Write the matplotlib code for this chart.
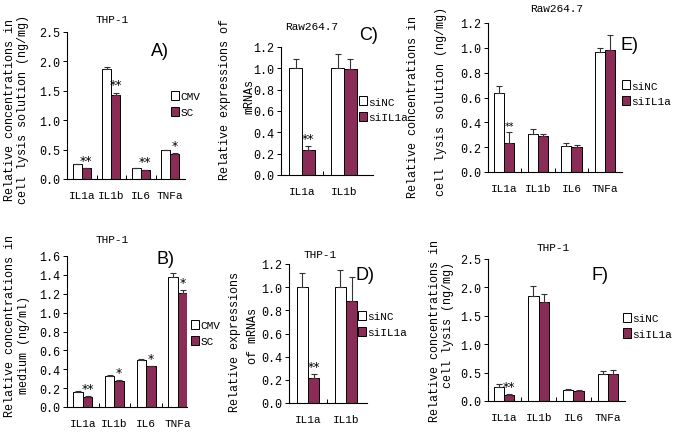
import matplotlib.pyplot as plt
import numpy as np
from matplotlib.patches import Patch

W, H = 675, 435
PURPLE = '#8b2b58'
MONO = 'Liberation Mono'

cyto4 = ['IL1a', 'IL1b', 'IL6', 'TNFa']
cyto2 = ['IL1a', 'IL1b']

# A) THP-1, cell lysis solution, CMV vs SC
a_cmv = [0.25, 1.87, 0.19, 0.49]
a_cmv_err = [0.01, 0.04, 0.005, 0.01]
a_sc = [0.18, 1.43, 0.15, 0.43]
a_sc_err = [0.005, 0.04, 0.005, 0.01]
a_stars = ['**', '**', '**', '*']

# B) THP-1, medium, CMV vs SC
b_cmv = [0.16, 0.33, 0.50, 1.38]
b_cmv_err = [0.005, 0.005, 0.01, 0.04]
b_sc = [0.11, 0.28, 0.43, 1.21]
b_sc_err = [0.005, 0.005, 0.005, 0.03]
b_stars = ['**', '*', '*', '*']

# C) Raw264.7 mRNA, siNC vs siIL1a
c_nc = [1.0, 1.0]
c_nc_err = [0.09, 0.13]
c_si = [0.23, 0.99]
c_si_err = [0.04, 0.10]
c_stars = ['**', '']

# D) THP-1 mRNA, siNC vs siIL1a
d_nc = [1.0, 1.0]
d_nc_err = [0.12, 0.15]
d_si = [0.22, 0.88]
d_si_err = [0.03, 0.21]
d_stars = ['**', '']

# E) Raw264.7 cell lysis solution, siNC vs siIL1a
e_nc = [0.64, 0.31, 0.21, 0.97]
e_nc_err = [0.05, 0.04, 0.02, 0.03]
e_si = [0.23, 0.29, 0.20, 0.98]
e_si_err = [0.09, 0.02, 0.015, 0.12]
e_stars = ['**', '', '', '']

# F) THP-1 cell lysis, siNC vs siIL1a
f_nc = [0.25, 1.85, 0.20, 0.48]
f_nc_err = [0.05, 0.17, 0.02, 0.05]
f_si = [0.10, 1.75, 0.18, 0.48]
f_si_err = [0.02, 0.13, 0.01, 0.06]
f_stars = ['**', '', '', '']

fig = plt.figure(figsize=(W / 100, H / 100), dpi=100)


def px_axes(x0, y_top, x1, y_bot):
    return fig.add_axes([x0 / W, 1 - y_bot / H, (x1 - x0) / W, (y_bot - y_top) / H])


def ftext(x, y, s, **kw):
    fig.text(x / W, 1 - y / H, s, **kw)


def draw_panel(ax, cats, v1, e1, v2, e2, stars, ymax, ystep, xlim,
               star_size=9):
    x = np.arange(len(cats))
    w = 0.3
    ekw = dict(elinewidth=0.8, ecolor='#333333', capthick=0.8)
    zero = np.zeros(len(cats))
    ax.bar(x - w / 2, v1, w, color='white', edgecolor='black', lw=0.7,
           yerr=[zero, e1], capsize=2.5, error_kw=ekw)
    ax.bar(x + w / 2, v2, w, color=PURPLE, edgecolor='black', lw=0.7,
           yerr=[zero, e2], capsize=2.5, error_kw=ekw)
    for i, s in enumerate(stars):
        if s:
            ax.annotate(s, (x[i] + w / 2, v2[i] + e2[i]), xytext=(0, 1),
                        textcoords='offset points', ha='center', va='bottom',
                        fontsize=star_size, family='DejaVu Sans')
    ax.set_xlim(*xlim)
    ax.set_ylim(0, ymax)
    ticks = np.arange(0, ymax + 1e-9, ystep)
    ax.set_yticks(ticks)
    ax.set_yticklabels(['%.1f' % t for t in ticks], family=MONO, fontsize=8.5)
    ax.set_xticks(x)
    ax.set_xticklabels(cats, family=MONO, fontsize=8)
    ax.set_xticks(x[:-1] + 0.5, minor=True)
    ax.tick_params(axis='x', which='major', length=0, pad=8)
    ax.tick_params(axis='x', which='minor', direction='in', length=3, width=0.7)
    ax.tick_params(axis='y', direction='out', length=3, width=0.7, pad=2)
    for side in ['top', 'right']:
        ax.spines[side].set_visible(False)
    for side in ['left', 'bottom']:
        ax.spines[side].set_linewidth(0.8)


def legend(x, y, labels):
    handles = [Patch(facecolor='white', edgecolor='black', lw=0.7),
               Patch(facecolor=PURPLE, edgecolor='black', lw=0.7)]
    fig.legend(handles, labels, loc='center left',
               bbox_to_anchor=(x / W, 1 - y / H), frameon=False,
               handlelength=0.7, handleheight=0.9, handletextpad=0.15,
               labelspacing=0.45, borderpad=0, borderaxespad=0,
               prop=dict(family=MONO, size=8))


def ylab(x, y, s, size=8.5):
    ftext(x, y, s, rotation=90, ha='center', va='center', family=MONO,
          fontsize=size)


# A
ax = px_axes(67, 33, 185, 180)
draw_panel(ax, cyto4, a_cmv, a_cmv_err, a_sc, a_sc_err, a_stars, 2.5, 0.5,
           (-0.5, 3.5))
ftext(112, 20, 'THP-1', ha='center', va='center', family=MONO, fontsize=8)
ftext(160, 52, 'A)', ha='center', va='center', family='Liberation Sans',
      fontsize=13)
legend(171, 105, ['CMV', 'SC'])
ylab(10, 110, 'Relative concentrations in')
ylab(23, 110, 'cell lysis solution (ng/mg)')

# C
ax = px_axes(281, 48, 373, 176)
draw_panel(ax, cyto2, c_nc, c_nc_err, c_si, c_si_err, c_stars, 1.2, 0.2,
           (-0.5, 1.69))
ftext(312, 27, 'Raw264.7', ha='center', va='center', family=MONO, fontsize=8)
ftext(369, 36, 'C)', ha='center', va='center', family='Liberation Sans',
      fontsize=13)
legend(359, 110, ['siNC', 'siIL1a'])
ylab(225, 100, 'Relative expressions of')
ylab(249, 97, 'mRNAs')

# E
ax = px_axes(488, 24, 622, 173)
draw_panel(ax, cyto4, e_nc, e_nc_err, e_si, e_si_err, e_stars, 1.2, 0.2,
           (-0.48, 3.5), star_size=7)
ftext(557, 9, 'Raw264.7', ha='center', va='center', family=MONO, fontsize=8)
ftext(630, 45, 'E)', ha='center', va='center', family='Liberation Sans',
      fontsize=13)
legend(622, 94, ['siNC', 'siIL1a'])
ylab(413, 107, 'Relative concentrations in')
ylab(441, 102, 'cell lysis solution (ng/mg)')

# B
ax = px_axes(67, 257, 187, 408)
draw_panel(ax, cyto4, b_cmv, b_cmv_err, b_sc, b_sc_err, b_stars, 1.6, 0.2,
           (-0.5, 3.29))
ftext(112, 240, 'THP-1', ha='center', va='center', family=MONO, fontsize=8)
ftext(165, 260, 'B)', ha='center', va='center', family='Liberation Sans',
      fontsize=13)
legend(191, 334, ['CMV', 'SC'])
ylab(10, 326, 'Relative concentrations in')
ylab(24, 345, 'medium (ng/ml)')

# D
ax = px_axes(289, 265, 367, 404)
draw_panel(ax, cyto2, d_nc, d_nc_err, d_si, d_si_err, d_stars, 1.2, 0.2,
           (-0.5, 1.55))
ftext(320, 255, 'THP-1', ha='center', va='center', family=MONO, fontsize=8)
ftext(365, 275, 'D)', ha='center', va='center', family='Liberation Sans',
      fontsize=13)
legend(358, 325, ['siNC', 'siIL1a'])
ylab(235, 342, 'Relative expressions')
ylab(253, 336, 'of mRNAs')

# F
ax = px_axes(488, 260, 625, 402)
draw_panel(ax, cyto4, f_nc, f_nc_err, f_si, f_si_err, f_stars, 2.5, 0.5,
           (-0.46, 3.49))
ftext(553, 248, 'THP-1', ha='center', va='center', family=MONO, fontsize=8)
ftext(600, 275, 'F)', ha='center', va='center', family='Liberation Sans',
      fontsize=13)
legend(623, 327, ['siNC', 'siIL1a'])
ylab(435, 331, 'Relative concentrations in')
ylab(448, 325, 'cell lysis (ng/mg)')

fig.savefig('out.png', dpi=100)
plt.close()
